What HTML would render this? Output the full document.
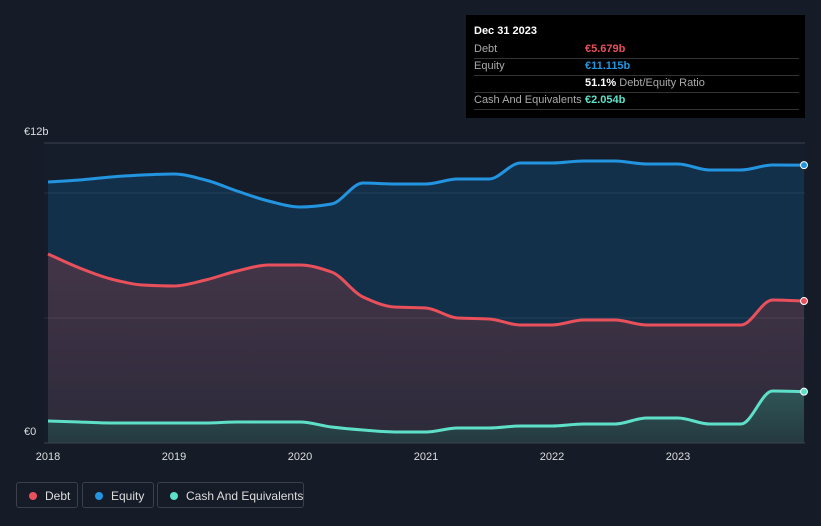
<!DOCTYPE html>
<html><head><meta charset="utf-8">
<style>
body{margin:0;background:#151b27;font-family:"Liberation Sans",sans-serif;}
#wrap{position:relative;width:821px;height:526px;overflow:hidden;background:#151b27;}
.tip{position:absolute;left:466px;top:15px;width:339px;height:103px;background:#000;color:#fff;font-size:11px;}
.tip .row{position:absolute;left:8px;right:6px;height:17px;border-bottom:1px solid #333;}
.tip .l{position:absolute;left:0;top:2px;color:#aaa;white-space:nowrap;}
.tip .v{position:absolute;left:111px;top:2px;font-weight:bold;white-space:nowrap;}
.leg{position:absolute;top:482px;height:26px;border:1px solid #3a414d;border-radius:3px;color:#ddd;font-size:12px;line-height:26px;box-sizing:border-box;white-space:nowrap;}
.leg i{position:absolute;left:12px;top:9px;width:8px;height:8px;border-radius:50%;}
.leg span{position:absolute;left:28px;}
</style></head><body>
<div id="wrap">
<svg id="svg" width="821" height="526" style="position:absolute;left:0;top:0">
<defs>
<linearGradient id="gd" x1="0" y1="0" x2="0" y2="1"><stop offset="0" stop-color="#433548"/><stop offset="1" stop-color="#2c2a3a"/></linearGradient>
<linearGradient id="gc" x1="0" y1="0" x2="0" y2="1"><stop offset="0" stop-color="#2f5556"/><stop offset="1" stop-color="#253a40"/></linearGradient>
</defs>
</svg>
<div class="tip">
 <div style="position:absolute;left:8px;top:10px;font-weight:bold;font-size:11px">Dec 31 2023</div>
 <div class="row" style="top:26px"><span class="l">Debt</span><span class="v" style="color:#e8505b">€5.679b</span></div>
 <div class="row" style="top:43px"><span class="l">Equity</span><span class="v" style="color:#2394df">€11.115b</span></div>
 <div class="row" style="top:60px"><span class="v" style="color:#fff">51.1% <span style="color:#aaa;font-weight:normal">Debt/Equity Ratio</span></span></div>
 <div class="row" style="top:77px"><span class="l">Cash And Equivalents</span><span class="v" style="color:#5ee0c8">€2.054b</span></div>
</div>
<div class="leg" style="left:16px;width:62px"><i style="background:#e8505b"></i><span>Debt</span></div>
<div class="leg" style="left:82px;width:72px"><i style="background:#2394df"></i><span>Equity</span></div>
<div class="leg" style="left:157px;width:147px"><i style="background:#5ee0c8"></i><span>Cash And Equivalents</span></div>
</div>
<script>
const years=["2018","2019","2020","2021","2022","2023"];
const yTicks=[0,12];
const yTickLabels=["€0","€12b"];
const quarters=[0,1,2,3,4,5,6,7,8,9,10,11,12,13,14,15,16,17,18,19,20,21,22,23,24];
const equity=[10.44,10.52,10.64,10.72,10.76,10.52,10.08,9.68,9.44,9.56,10.4,10.36,10.36,10.56,10.56,11.2,11.2,11.28,11.28,11.16,11.16,10.92,10.92,11.12,11.115];
const debt=[7.56,7.0,6.56,6.32,6.28,6.52,6.88,7.12,7.12,6.84,5.84,5.44,5.4,5.0,4.96,4.72,4.72,4.92,4.92,4.72,4.72,4.72,4.72,5.72,5.679];
const cash=[0.88,0.84,0.8,0.8,0.8,0.8,0.84,0.84,0.84,0.64,0.52,0.44,0.44,0.6,0.6,0.68,0.68,0.76,0.76,1.0,1.0,0.76,0.76,2.08,2.054];
const X=q=>48+q*31.5;
const Y=v=>443-v*25;
const svg=document.getElementById('svg');
const NS='http://www.w3.org/2000/svg';
function mk(t,a){const e=document.createElementNS(NS,t);for(const k in a)e.setAttribute(k,a[k]);svg.appendChild(e);return e;}
function mono(xs,ys){const n=xs.length,d=[],m=[];for(let i=0;i<n-1;i++)d.push((ys[i+1]-ys[i])/(xs[i+1]-xs[i]));
m[0]=d[0];m[n-1]=d[n-2];for(let i=1;i<n-1;i++){m[i]=(d[i-1]*d[i]<=0)?0:2/(1/d[i-1]+1/d[i]);}
let p='M'+xs[0]+','+ys[0];for(let i=0;i<n-1;i++){const h=(xs[i+1]-xs[i])/3;p+=' C'+(xs[i]+h)+','+(ys[i]+m[i]*h)+' '+(xs[i+1]-h)+','+(ys[i+1]-m[i+1]*h)+' '+xs[i+1]+','+ys[i+1];}return p;}
let r=mk('rect',{x:44,y:143,width:761,height:300,fill:'#161d2a'});

const xs=quarters.map(X);
const series=[[equity,'#2394df','#13304a','equity'],[debt,'#e8505b','url(#gd)','debt'],[cash,'#5ee0c8','url(#gc)','cash']];
series.forEach(s=>{const ys=s[0].map(Y);const p=mono(xs,ys);
const a=mk('path',{d:p+' L'+xs[xs.length-1]+',443 L'+xs[0]+',443 Z',fill:s[2]});});
[10,5].forEach(g=>{const l=mk('line',{x1:44,x2:805,y1:Y(g),y2:Y(g),stroke:'rgba(255,255,255,0.08)'});});
let tl=mk('line',{x1:44,x2:805,y1:Y(12),y2:Y(12),stroke:'#3a4150'});
series.forEach(s=>{const ys=s[0].map(Y);const p=mono(xs,ys);
const l=mk('path',{d:p,fill:'none',stroke:s[1],'stroke-width':3});
const c=mk('circle',{cx:xs[xs.length-1],cy:ys[ys.length-1],r:3.5,fill:s[1],stroke:'#fff','stroke-width':1});});
let bl=mk('line',{x1:44,x2:805,y1:443,y2:443,stroke:'#3a4150'});
years.forEach((y,i)=>{const t=mk('text',{x:X(i*4),y:460,fill:'#ddd','font-size':11,'text-anchor':'middle','font-family':'Liberation Sans'});t.textContent=y;});
yTicks.forEach((v,i)=>{const t=mk('text',{x:24,y:Y(v)-8,fill:'#ddd','font-size':11,'font-family':'Liberation Sans'});t.textContent=yTickLabels[i];});
</script>
</body></html>
